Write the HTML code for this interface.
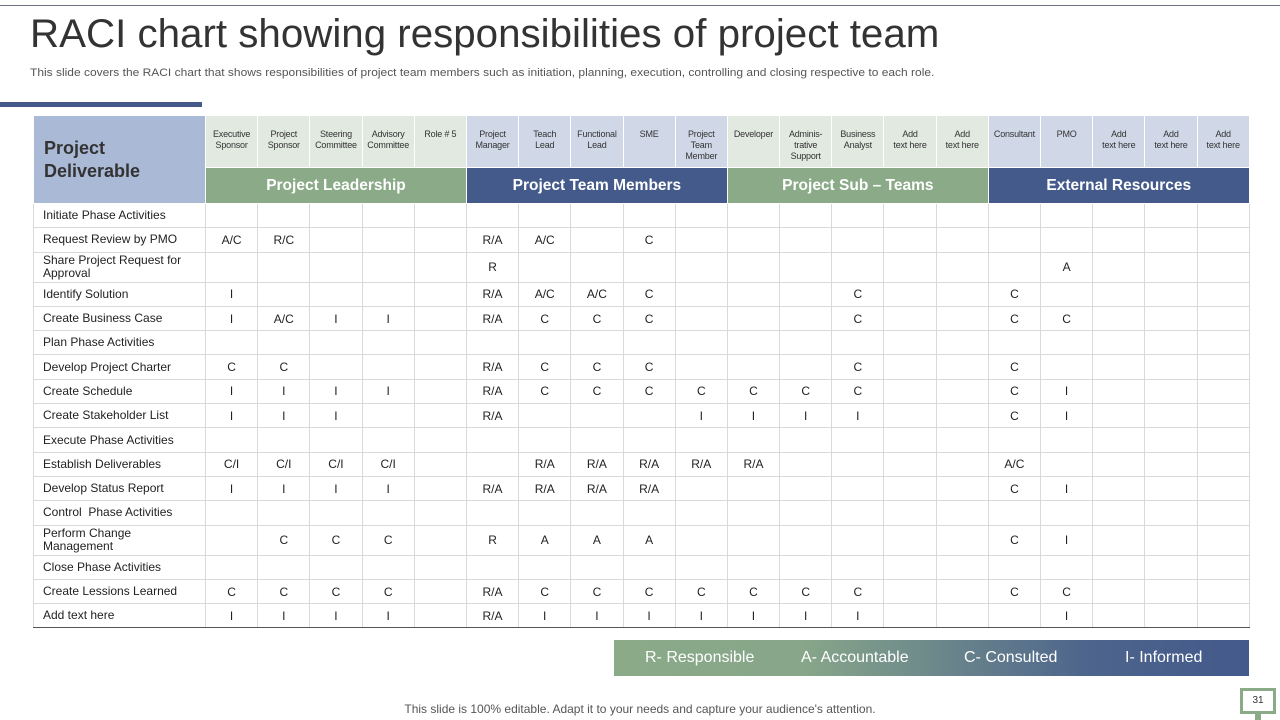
<!DOCTYPE html>
<html><head><meta charset="utf-8"><style>
*{margin:0;padding:0;box-sizing:border-box}
body{width:1280px;height:720px;background:#fff;font-family:"Liberation Sans",sans-serif;position:relative;overflow:hidden;color:#222}
.topline{position:absolute;left:0;top:5px;width:1280px;height:1px;background:#6a7080}
h1{position:absolute;left:30px;top:11px;font-size:40.3px;font-weight:normal;color:#333;white-space:nowrap}
.sub{position:absolute;left:30px;top:67px;font-size:11px;color:#555;white-space:nowrap;transform:scaleX(1.09);transform-origin:left}
.bar{position:absolute;left:0;top:102px;width:202px;height:5px;background:#44598a}
table{position:absolute;left:33px;top:115px;width:1216px;border-collapse:collapse;table-layout:fixed}
td{border:1px solid #d9d9d9;font-size:12px;text-align:center;vertical-align:middle;padding:0}
td.l{text-align:left;padding-left:9px;padding-right:2px;font-size:12px;line-height:13px;white-space:nowrap}
.hd td{font-size:9px;line-height:11px;vertical-align:top;padding-top:13px;color:#333;border:1px solid #fff;height:52px;letter-spacing:-0.2px}
.g{background:#e2e9e1}.b{background:#d0d8e8}
.pd{background:#a9b9d6;text-align:left!important;vertical-align:middle!important;padding:0 0 0 10px!important;font-size:18px!important;line-height:23px!important;font-weight:bold;color:#222;border:1px solid #fff;letter-spacing:0!important}
.band td{height:36px;color:#fff;font-weight:bold;font-size:15.5px;border:1px solid #fff}
.bg{background:#8aaa88}.bb{background:#435a8b}
tbody.rows tr{height:24.3px}
tbody.rows tr.t{height:30px}
tbody.rows tr:last-child td{border-bottom:1px solid #555}
.leg{position:absolute;left:614px;top:640px;width:635px;height:36px;background:linear-gradient(90deg,#8aaa88 0%,#87a68a 30%,#4d648c 75%,#435a8b 100%);color:#fff;font-size:16px}
.leg span{position:absolute;top:9px}
.foot{position:absolute;left:0;width:1280px;top:702px;text-align:center;font-size:12px;color:#555}
.pg{position:absolute;left:1240px;top:688px;width:36px;height:26px;border:3px solid #8aaa88;font-size:10px;text-align:center;line-height:20px;color:#333}
.pg:after{content:"";position:absolute;left:12px;top:23px;width:6px;height:6px;background:#8aaa88}
</style></head><body>
<div class="topline"></div>
<h1>RACI chart showing responsibilities of project team</h1>
<div class="sub">This slide covers the RACI chart that shows responsibilities of project team members such as initiation, planning, execution, controlling and closing respective to each role.</div>
<div class="bar"></div>
<table>
<colgroup><col style="width:172px"><col span="20" style="width:52.2px"></colgroup>
<tr class="hd"><td class="pd" rowspan="2">Project<br>Deliverable</td>
<td class="g">Executive<br>Sponsor</td><td class="g">Project<br>Sponsor</td><td class="g">Steering<br>Committee</td><td class="g">Advisory<br>Committee</td><td class="g">Role # 5</td>
<td class="b">Project<br>Manager</td><td class="b">Teach<br>Lead</td><td class="b">Functional<br>Lead</td><td class="b">SME</td><td class="b">Project<br>Team<br>Member</td>
<td class="g">Developer</td><td class="g">Adminis-<br>trative<br>Support</td><td class="g">Business<br>Analyst</td><td class="g">Add<br>text here</td><td class="g">Add<br>text here</td>
<td class="b">Consultant</td><td class="b">PMO</td><td class="b">Add<br>text here</td><td class="b">Add<br>text here</td><td class="b">Add<br>text here</td></tr>
<tr class="band"><td colspan="5" class="bg">Project Leadership</td><td colspan="5" class="bb">Project Team Members</td><td colspan="5" class="bg">Project Sub – Teams</td><td colspan="5" class="bb">External Resources</td></tr>
<tbody class="rows">
<tr><td class="l">Initiate Phase Activities</td><td></td><td></td><td></td><td></td><td></td><td></td><td></td><td></td><td></td><td></td><td></td><td></td><td></td><td></td><td></td><td></td><td></td><td></td><td></td><td></td></tr>
<tr><td class="l">Request Review by PMO</td><td>A/C</td><td>R/C</td><td></td><td></td><td></td><td>R/A</td><td>A/C</td><td></td><td>C</td><td></td><td></td><td></td><td></td><td></td><td></td><td></td><td></td><td></td><td></td><td></td></tr>
<tr class="t"><td class="l">Share Project Request for<br>Approval</td><td></td><td></td><td></td><td></td><td></td><td>R</td><td></td><td></td><td></td><td></td><td></td><td></td><td></td><td></td><td></td><td></td><td>A</td><td></td><td></td><td></td></tr>
<tr><td class="l">Identify Solution</td><td>I</td><td></td><td></td><td></td><td></td><td>R/A</td><td>A/C</td><td>A/C</td><td>C</td><td></td><td></td><td></td><td>C</td><td></td><td></td><td>C</td><td></td><td></td><td></td><td></td></tr>
<tr><td class="l">Create Business Case</td><td>I</td><td>A/C</td><td>I</td><td>I</td><td></td><td>R/A</td><td>C</td><td>C</td><td>C</td><td></td><td></td><td></td><td>C</td><td></td><td></td><td>C</td><td>C</td><td></td><td></td><td></td></tr>
<tr><td class="l">Plan Phase Activities</td><td></td><td></td><td></td><td></td><td></td><td></td><td></td><td></td><td></td><td></td><td></td><td></td><td></td><td></td><td></td><td></td><td></td><td></td><td></td><td></td></tr>
<tr><td class="l">Develop Project Charter</td><td>C</td><td>C</td><td></td><td></td><td></td><td>R/A</td><td>C</td><td>C</td><td>C</td><td></td><td></td><td></td><td>C</td><td></td><td></td><td>C</td><td></td><td></td><td></td><td></td></tr>
<tr><td class="l">Create Schedule</td><td>I</td><td>I</td><td>I</td><td>I</td><td></td><td>R/A</td><td>C</td><td>C</td><td>C</td><td>C</td><td>C</td><td>C</td><td>C</td><td></td><td></td><td>C</td><td>I</td><td></td><td></td><td></td></tr>
<tr><td class="l">Create Stakeholder List</td><td>I</td><td>I</td><td>I</td><td></td><td></td><td>R/A</td><td></td><td></td><td></td><td>I</td><td>I</td><td>I</td><td>I</td><td></td><td></td><td>C</td><td>I</td><td></td><td></td><td></td></tr>
<tr><td class="l">Execute Phase Activities</td><td></td><td></td><td></td><td></td><td></td><td></td><td></td><td></td><td></td><td></td><td></td><td></td><td></td><td></td><td></td><td></td><td></td><td></td><td></td><td></td></tr>
<tr><td class="l">Establish Deliverables</td><td>C/I</td><td>C/I</td><td>C/I</td><td>C/I</td><td></td><td></td><td>R/A</td><td>R/A</td><td>R/A</td><td>R/A</td><td>R/A</td><td></td><td></td><td></td><td></td><td>A/C</td><td></td><td></td><td></td><td></td></tr>
<tr><td class="l">Develop Status Report</td><td>I</td><td>I</td><td>I</td><td>I</td><td></td><td>R/A</td><td>R/A</td><td>R/A</td><td>R/A</td><td></td><td></td><td></td><td></td><td></td><td></td><td>C</td><td>I</td><td></td><td></td><td></td></tr>
<tr><td class="l">Control &nbsp;Phase Activities</td><td></td><td></td><td></td><td></td><td></td><td></td><td></td><td></td><td></td><td></td><td></td><td></td><td></td><td></td><td></td><td></td><td></td><td></td><td></td><td></td></tr>
<tr class="t"><td class="l">Perform Change<br>Management</td><td></td><td>C</td><td>C</td><td>C</td><td></td><td>R</td><td>A</td><td>A</td><td>A</td><td></td><td></td><td></td><td></td><td></td><td></td><td>C</td><td>I</td><td></td><td></td><td></td></tr>
<tr><td class="l">Close Phase Activities</td><td></td><td></td><td></td><td></td><td></td><td></td><td></td><td></td><td></td><td></td><td></td><td></td><td></td><td></td><td></td><td></td><td></td><td></td><td></td><td></td></tr>
<tr><td class="l">Create Lessions Learned</td><td>C</td><td>C</td><td>C</td><td>C</td><td></td><td>R/A</td><td>C</td><td>C</td><td>C</td><td>C</td><td>C</td><td>C</td><td>C</td><td></td><td></td><td>C</td><td>C</td><td></td><td></td><td></td></tr>
<tr><td class="l">Add text here</td><td>I</td><td>I</td><td>I</td><td>I</td><td></td><td>R/A</td><td>I</td><td>I</td><td>I</td><td>I</td><td>I</td><td>I</td><td>I</td><td></td><td></td><td></td><td>I</td><td></td><td></td><td></td></tr>
</tbody>
</table>
<div class="leg"><span style="left:31px">R- Responsible</span><span style="left:187px">A- Accountable</span><span style="left:350px">C- Consulted</span><span style="left:511px">I- Informed</span></div>
<div class="foot">This slide is 100% editable. Adapt it to your needs and capture your audience's attention.</div>
<div class="pg">31</div>
</body></html>
